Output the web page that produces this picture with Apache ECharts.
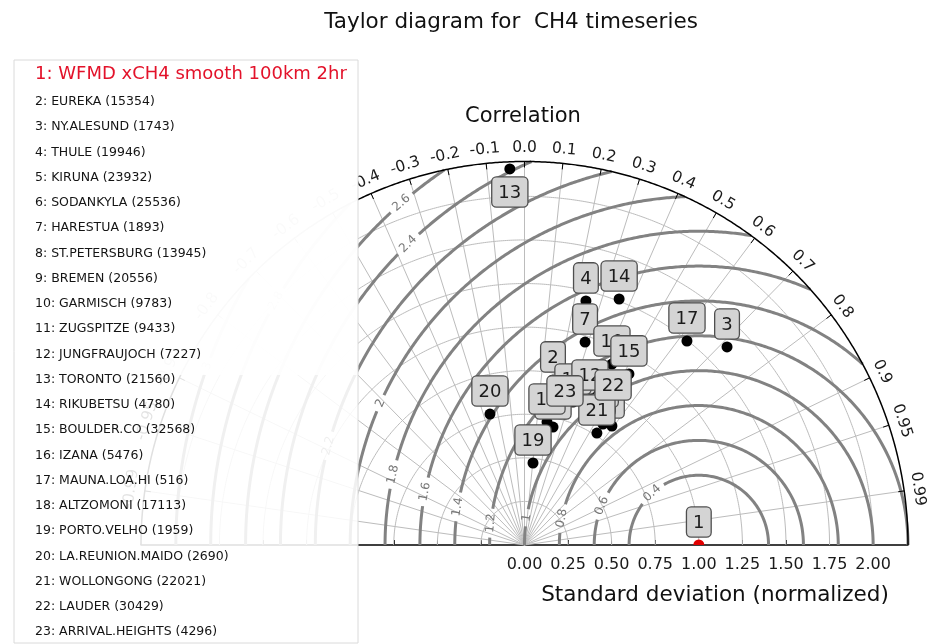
<!DOCTYPE html>
<html>
<head>
<meta charset="utf-8">
<script src="https://cdn.jsdelivr.net/npm/echarts@6/dist/echarts.min.js"></script>
<style>
html, body { margin: 0; padding: 0; background: #fff; }
#chart { width: 929px; height: 644px; }
</style>
</head>
<body>
<div id="chart"></div>
<script>
// ---- data ----
// station list; entry 0 is the reference series
const stationNames = [
  'WFMD xCH4 smooth 100km 2hr', 'EUREKA (15354)', 'NY.ALESUND (1743)', 'THULE (19946)',
  'KIRUNA (23932)', 'SODANKYLA (25536)', 'HARESTUA (1893)', 'ST.PETERSBURG (13945)',
  'BREMEN (20556)', 'GARMISCH (9783)', 'ZUGSPITZE (9433)', 'JUNGFRAUJOCH (7227)',
  'TORONTO (21560)', 'RIKUBETSU (4780)', 'BOULDER.CO (32568)', 'IZANA (5476)',
  'MAUNA.LOA.HI (516)', 'ALTZOMONI (17113)', 'PORTO.VELHO (1959)', 'LA.REUNION.MAIDO (2690)',
  'WOLLONGONG (22021)', 'LAUDER (30429)', 'ARRIVAL.HEIGHTS (4296)'
];
// normalized standard deviation per station
const stdDev = [
  1.000, 0.961, 1.625, 1.444, 0.847, 0.827, 1.215, 0.880, 0.856, 1.153, 0.866, 0.923,
  2.159, 1.512, 1.150, 0.696, 1.496, 0.717, 0.473, 0.777, 0.765, 0.936, 0.787
];
// correlation with the reference per station
const correlation = [
  1.000, 0.170, 0.715, 0.244, 0.592, 0.544, 0.286, 0.531, 0.452, 0.435, 0.321, 0.407,
  -0.039, 0.359, 0.521, 0.235, 0.623, 0.180, 0.103, -0.255, 0.543, 0.543, 0.295
];
// correlation ticks on the outer arc
const corrTicks = [
  -0.99, -0.95, -0.9, -0.8, -0.7, -0.6, -0.5, -0.4, -0.3, -0.2, -0.1,
  0.0, 0.1, 0.2, 0.3, 0.4, 0.5, 0.6, 0.7, 0.8, 0.9, 0.95, 0.99
];
// standard deviation ticks (labelled side)
const stdTicks = [0.00, 0.25, 0.50, 0.75, 1.00, 1.25, 1.50, 1.75, 2.00];
// centred RMS difference contour levels
const rmsLevels = [0.4, 0.6, 0.8, 1.0, 1.2, 1.4, 1.6, 1.8, 2.0, 2.2, 2.4, 2.6, 2.8, 3.0];
const stdMax = 2.2;

// ---- styling config ----
const FONT = 'DejaVu Sans';
const contourLabelAngle = {   // degrees around the reference point
  '0.4': 132, '0.6': 158, '0.8': 169, '1.0': 171, '1.2': 174, '1.4': 171, '1.6': 169,
  '1.8': 167, '2.0': 156, '2.2': 165, '2.4': 134, '2.6': 131, '2.8': 150, '3.0': 160
};
const labelBelow = [13];

// ---- helpers ----
function toXY(s, c) {
  const t = Math.acos(c);
  return [s * Math.cos(t), s * Math.sin(t)];
}
function arcPoints(api, cx, r, a0, a1) {
  const pxR = api.size([r, 0])[0];
  const n = Math.max(16, Math.ceil(pxR * Math.abs(a1 - a0) / 2));
  const pts = [];
  for (let k = 0; k <= n; k++) {
    const a = a0 + (a1 - a0) * k / n;
    pts.push(api.coord([cx + r * Math.cos(a), r * Math.sin(a)]));
  }
  return pts;
}
function fmtCorr(c) {
  return Math.abs(Math.round(c * 10) - c * 10) < 1e-9 ? c.toFixed(1) : c.toFixed(2);
}
function fmtLevel(r) {
  return String(Number(r.toFixed(1)));
}

const boxLabel = {
  show: true,
  position: 'top',
  distance: 3,
  formatter: '{b}',
  fontSize: 18,
  fontFamily: FONT,
  color: '#1c1c1c',
  lineHeight: 21,
  backgroundColor: '#d4d4d4',
  borderColor: '#4f4f4f',
  borderWidth: 1.3,
  borderRadius: 4,
  padding: [5, 6, 3, 6]
};

const stationData = [];
for (let i = 1; i < stdDev.length; i++) {
  const item = { name: String(i + 1), value: toXY(stdDev[i], correlation[i]) };
  if (labelBelow.indexOf(i + 1) >= 0) item.label = { position: 'bottom' };
  stationData.push(item);
}
const refData = [{ name: '1', value: toXY(stdDev[0], correlation[0]) }];

// ---- series ----
const stdGridSeries = {
  type: 'custom', silent: true, z: 1,
  data: stdTicks.filter(v => v > 0).map(v => [v, 0]),
  renderItem: (params, api) => ({
    type: 'polyline',
    shape: { points: arcPoints(api, 0, api.value(0), 0, Math.PI) },
    style: { stroke: '#bcbcbc', lineWidth: 1, fill: 'none' }
  })
};

const radialSeries = {
  type: 'custom', silent: true, z: 1,
  data: corrTicks.map(c => [c, 0]),
  renderItem: (params, api) => {
    const t = Math.acos(api.value(0));
    const p0 = api.coord([0, 0]);
    const p1 = api.coord([stdMax * Math.cos(t), stdMax * Math.sin(t)]);
    return {
      type: 'line',
      shape: { x1: p0[0], y1: p0[1], x2: p1[0], y2: p1[1] },
      style: { stroke: '#bcbcbc', lineWidth: 1 }
    };
  }
};

const contourSeries = {
  type: 'custom', silent: true, z: 2,
  data: rmsLevels.map(r => [r, 0]),
  renderItem: (params, api) => {
    const R = api.value(0);
    const cosStart = (stdMax * stdMax - 1 - R * R) / (2 * R);
    const a0 = cosStart >= 1 ? 0 : Math.acos(Math.max(-1, cosStart));
    const aL = (contourLabelAngle[R.toFixed(1)] || 165) * Math.PI / 180;
    const text = fmtLevel(R);
    const pxR = api.size([R, 0])[0];
    const textW = 12 * (0.636 * text.replace('.', '').length + (text.indexOf('.') >= 0 ? 0.318 : 0));
    const half = (textW / 2 + 5) / pxR;
    const style = { stroke: '#828282', lineWidth: 3, fill: 'none' };
    const children = [];
    if (aL - half > a0) {
      children.push({ type: 'polyline', shape: { points: arcPoints(api, 1, R, a0, aL - half) }, style });
      children.push({ type: 'polyline', shape: { points: arcPoints(api, 1, R, aL + half, Math.PI) }, style });
      const lp = api.coord([1 + R * Math.cos(aL), R * Math.sin(aL)]);
      children.push({
        type: 'text', x: lp[0], y: lp[1], rotation: aL - Math.PI / 2,
        style: { text, fill: '#767676', fontSize: 12, fontFamily: FONT, align: 'center', verticalAlign: 'middle' }
      });
    } else {
      children.push({ type: 'polyline', shape: { points: arcPoints(api, 1, R, a0, Math.PI) }, style });
    }
    return { type: 'group', children };
  }
};

const outlineSeries = {
  type: 'custom', silent: true, z: 3,
  data: [[stdMax, 0]],
  renderItem: (params, api) => ({
    type: 'polyline',
    shape: { points: arcPoints(api, 0, api.value(0), 0, Math.PI) },
    style: { stroke: '#000', lineWidth: 1.5, fill: 'none' }
  })
};

const corrAxisSeries = {
  type: 'custom', silent: true, z: 3,
  data: corrTicks.map(c => [c, 0]),
  renderItem: (params, api) => {
    const c = api.value(0);
    const t = Math.acos(c);
    const p = api.coord([stdMax * Math.cos(t), stdMax * Math.sin(t)]);
    const dx = Math.cos(t), dy = -Math.sin(t);
    return {
      type: 'group',
      children: [
        { type: 'line', shape: { x1: p[0], y1: p[1], x2: p[0] - 6 * dx, y2: p[1] - 6 * dy },
          style: { stroke: '#000', lineWidth: 1 } },
        { type: 'text', x: p[0] + 14 * dx, y: p[1] + 14 * dy, rotation: t - Math.PI / 2,
          style: { text: fmtCorr(c), fill: '#1a1a1a', fontSize: 15.5, fontFamily: FONT,
                   align: 'center', verticalAlign: 'middle' } }
      ]
    };
  }
};

const stationSeries = {
  type: 'scatter', z: 5, clip: false, silent: true,
  symbol: 'circle', symbolSize: 11,
  itemStyle: { color: '#000', opacity: 1 },
  label: boxLabel,
  data: stationData
};

const refSeries = {
  type: 'scatter', z: 5, clip: false, silent: true,
  symbol: 'path://M0,10 A10,10 0 0 1 20,10 Z',
  symbolSize: [11, 5.5], symbolOffset: [0, -2.75],
  itemStyle: { color: '#e00000', opacity: 1 },
  label: boxLabel,
  data: refData
};

// ---- legend panel ----
const legendChildren = [
  { type: 'rect', z: 100, shape: { x: 14, y: 60, width: 344, height: 315 },
    style: { fill: 'rgba(255,255,255,0.98)' } },
  { type: 'rect', z: 100, shape: { x: 14, y: 375, width: 344, height: 268 },
    style: { fill: 'rgba(255,255,255,0.88)' } },
  { type: 'rect', z: 100, shape: { x: 14, y: 60, width: 344, height: 583 },
    style: { fill: 'none', stroke: '#dadada', lineWidth: 1 } }
];
stationNames.forEach((name, i) => {
  const first = i === 0;
  legendChildren.push({
    type: 'text', z: 101,
    x: 35, y: first ? 74 : 102 + (i - 1) * 25.24,
    style: {
      text: (i + 1) + ': ' + name,
      fill: first ? '#e3122a' : '#141414',
      fontSize: first ? 18 : 12.5,
      fontFamily: FONT,
      align: 'left', verticalAlign: 'middle'
    }
  });
});

const option = {
  animation: false,
  backgroundColor: '#fff',
  textStyle: { fontFamily: FONT },
  grid: { left: 141, top: 161.5, width: 767, height: 383.5, containLabel: false, outerBoundsMode: 'none' },
  xAxis: {
    type: 'value', min: -stdMax, max: stdMax,
    splitLine: { show: false },
    axisLine: { show: true, onZero: false, lineStyle: { color: '#000', width: 1.5 } },
    axisTick: {
      show: true, inside: true, length: 5,
      lineStyle: { color: '#000', width: 1 },
      customValues: stdTicks.slice(1).map(v => -v).reverse().concat(stdTicks)
    },
    axisLabel: {
      show: true, margin: 12,
      customValues: stdTicks,
      formatter: v => v.toFixed(2),
      fontSize: 16, fontFamily: FONT, color: '#1a1a1a'
    }
  },
  yAxis: { type: 'value', min: 0, max: stdMax, show: false },
  series: [stdGridSeries, radialSeries, contourSeries, outlineSeries, corrAxisSeries, stationSeries, refSeries],
  graphic: [
    { type: 'text', z: 100, x: 511, y: 22,
      style: { text: 'Taylor diagram for  CH4 timeseries', fill: '#111', fontSize: 21.5, fontFamily: FONT,
               align: 'center', verticalAlign: 'middle' } },
    { type: 'text', z: 100, x: 523, y: 117,
      style: { text: 'Correlation', fill: '#111', fontSize: 21, fontFamily: FONT,
               align: 'center', verticalAlign: 'middle' } },
    { type: 'text', z: 100, x: 715, y: 595,
      style: { text: 'Standard deviation (normalized)', fill: '#111', fontSize: 21.5, fontFamily: FONT,
               align: 'center', verticalAlign: 'middle' } },
    { type: 'group', z: 100, children: legendChildren }
  ]
};

const chart = echarts.init(document.getElementById('chart'), null, { renderer: 'canvas' });
chart.setOption(option);
</script>
</body>
</html>
